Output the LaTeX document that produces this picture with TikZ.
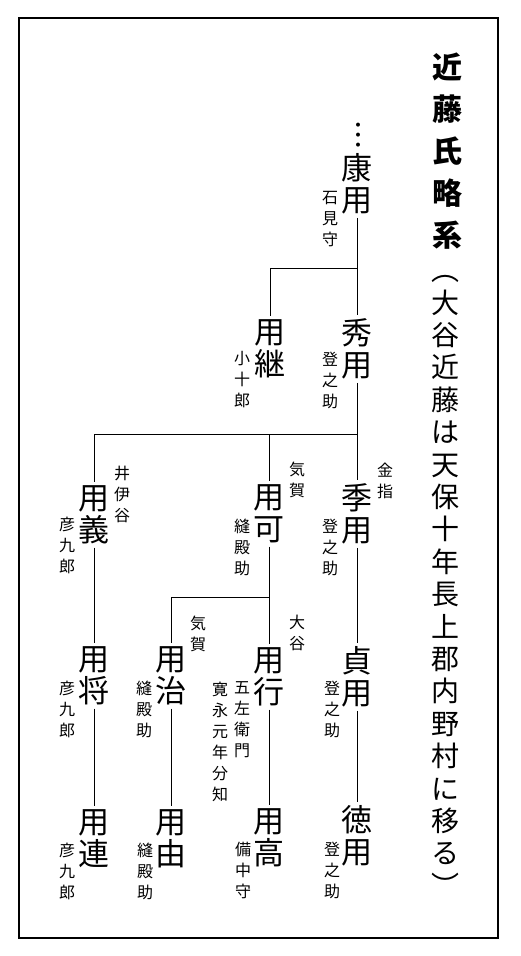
\documentclass[tikz,border=0pt]{standalone}
\usepackage{fontspec}
\setmainfont{Noto Sans CJK JP}
\usetikzlibrary{positioning}

\begin{document}
\begin{tikzpicture}[x=0.5pt, y=-0.5pt, line width=0.5pt,
		mei/.style={font=\fontsize{15.5}{16}\selectfont, align=center, inner sep=1.5pt},
		gou/.style={font=\fontsize{8}{10.5}\selectfont, align=center, inner sep=0pt}]
		\useasboundingbox (0,0) rectangle (520,956);
		\draw[line width=0.75pt] (19,18) rectangle (498,938);
		% title
		\node[font=\fontsize{15}{21}\selectfont\bfseries, align=center, inner sep=0pt] (title) at (447,151) {近\\藤\\氏\\略\\系};
		\node[font=\fontsize{14}{16.2}\selectfont, align=center, inner sep=0pt] (subtitle) at (445,586)
			{︵\\大\\谷\\近\\藤\\は\\天\\保\\十\\年\\長\\上\\郡\\内\\野\\村\\に\\移\\る\\︶};
		% 1st generation
		\node[font=\fontsize{15}{16}\selectfont, inner sep=0pt] (ten) at (358,135) {︙};
		\node[mei] (kyoyo) at (357,184) {康\\用};
		\node[gou] (iwami) at (330,219) {石\\見\\守};
		% 2nd
		\node[mei] (hideyo) at (357,349) {秀\\用};
		\node[gou] (hide_t) at (330,380) {登\\之\\助};
		\node[mei] (yotsugu) at (270,349) {用\\継};
		\node[gou] (kojuro) at (242,380) {小\\十\\郎};
		% 3rd
		\node[mei] (yoyoshi) at (94,515) {用\\義};
		\node[gou] (iinoya) at (122,494) {井\\伊\\谷};
		\node[gou] (yoshi_t) at (67,545) {彦\\九\\郎};
		\node[mei] (yoka) at (269,514) {用\\可};
		\node[gou] (kega_a) at (297,480) {気\\賀};
		\node[gou] (ka_t) at (242,547) {縫\\殿\\助};
		\node[mei] (sueyo) at (357,514) {季\\用};
		\node[gou] (kanasashi) at (385,481) {金\\指};
		\node[gou] (sue_t) at (330,547) {登\\之\\助};
		% 4th
		\node[mei] (yomasa) at (94,676) {用\\将};
		\node[gou] (masa_t) at (67,709) {彦\\九\\郎};
		\node[mei] (yoharu) at (171,676) {用\\治};
		\node[gou] (kega_b) at (198,634) {気\\賀};
		\node[gou] (haru_t) at (144,709) {縫\\殿\\助};
		\node[mei] (yoyuki) at (269,677) {用\\行};
		\node[gou] (oya) at (297,633) {大\\谷};
		\node[gou] (gozaemon) at (242,720) {五\\左\\衛\\門};
		\node[gou] (bunchi) at (220,742) {寛\\永\\元\\年\\分\\知};
		\node[mei] (sadayo) at (357,677) {貞\\用};
		\node[gou] (sada_t) at (332,709) {登\\之\\助};
		% 5th
		\node[mei] (yotsura) at (94,839) {用\\連};
		\node[gou] (tsura_t) at (67,871) {彦\\九\\郎};
		\node[mei] (yoyoshi_b) at (171,839) {用\\由};
		\node[gou] (yoshib_t) at (145,871) {縫\\殿\\助};
		\node[mei] (yotaka) at (269,838) {用\\高};
		\node[gou] (bitchu) at (243,870) {備\\中\\守};
		\node[mei] (noriyo) at (357,836) {徳\\用};
		\node[gou] (nori_t) at (332,870) {登\\之\\助};
		% lines
		\coordinate (b1) at (357,269);
		\coordinate (b2) at (357,434);
		\coordinate (b3) at (269,597);
		\draw (kyoyo.south) -- (hideyo.north);
		\draw (b1) -| (yotsugu.north);
		\draw (hideyo.south) -- (sueyo.north);
		\draw (b2) -| (yoyoshi.north);
		\draw (b2) -| (yoka.north);
		\draw (yoyoshi.south) -- (yomasa.north);
		\draw (yoka.south) -- (yoyuki.north);
		\draw (b3) -| (yoharu.north);
		\draw (sueyo.south) -- (sadayo.north);
		\draw (yomasa.south) -- (yotsura.north);
		\draw (yoharu.south) -- (yoyoshi_b.north);
		\draw (yoyuki.south) -- (yotaka.north);
		\draw (sadayo.south) -- (noriyo.north);
\end{tikzpicture}
\end{document}
